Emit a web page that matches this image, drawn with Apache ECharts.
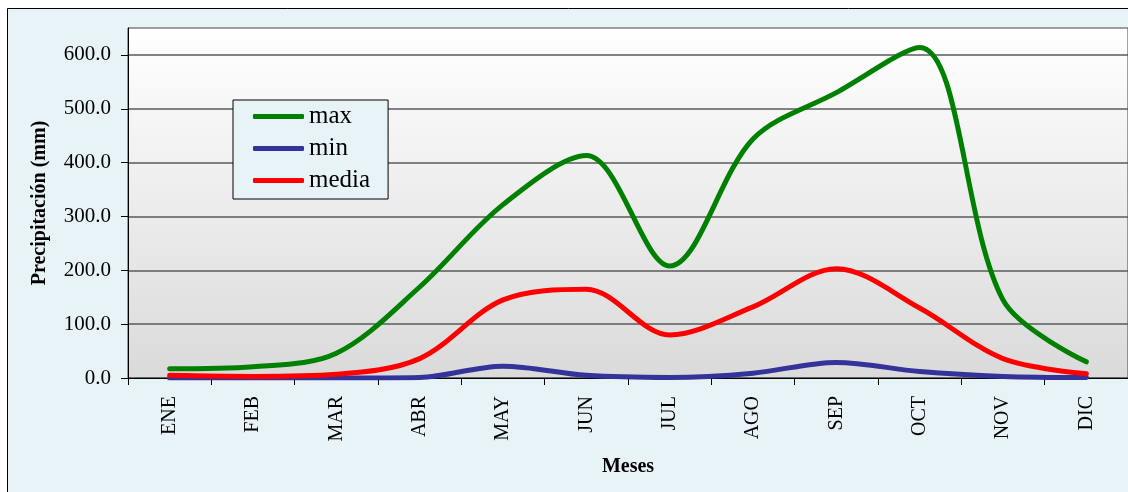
<!DOCTYPE html>
<html>
<head>
<meta charset="utf-8">
<script src="https://cdn.jsdelivr.net/npm/echarts@6/dist/echarts.min.js"></script>
<style>
  html, body { margin: 0; padding: 0; background: #ffffff; }
  #chart { width: 1128px; height: 492px; }
</style>
</head>
<body>
<div id="chart"></div>
<script>
// datos (mm)
const meses = ['ENE', 'FEB', 'MAR', 'ABR', 'MAY', 'JUN', 'JUL', 'AGO', 'SEP', 'OCT', 'NOV', 'DIC'];
const maxVals = [17, 21, 46, 169, 322, 413, 208, 444, 530, 614, 145, 30];
const minVals = [0, 0, 0, 1, 22, 5, 1, 9, 29, 12, 3, 1];
const mediaVals = [5, 3, 7, 36, 145, 165, 80, 132, 203, 130, 36, 8];
const yTicks = [0, 100, 200, 300, 400, 500, 600];

const serif = '"Liberation Serif", "Times New Roman", serif';

const chart = echarts.init(document.getElementById('chart'));

function linea(name, data, color) {
  return {
    name: name,
    type: 'line',
    data: data,
    smooth: 0.33,
    symbol: 'none',
    lineStyle: { width: 5, color: color, cap: 'round' },
    itemStyle: { color: color },
    z: 3,
  };
}

const option = {
  animation: false,
  backgroundColor: '#ffffff',
  textStyle: { fontFamily: serif, color: '#000000' },
  graphic: [
    {
      type: 'rect',
      z: -10,
      silent: true,
      shape: { x: 7.5, y: 8.5, width: 1200, height: 600 },
      style: { fill: '#E8F3F8', stroke: '#000000', lineWidth: 1 },
    },
  ],
  grid: {
    show: true,
    left: 128,
    top: 28,
    right: -8,
    bottom: 114,
    borderColor: '#444444',
    borderWidth: 1,
    backgroundColor: new echarts.graphic.LinearGradient(0, 0, 0, 1, [
      { offset: 0, color: '#FFFFFF' },
      { offset: 1, color: '#DADADA' },
    ]),
  },
  legend: {
    orient: 'vertical',
    left: 233,
    top: 100,
    padding: [4, 18, 6, 20],
    backgroundColor: '#E8F3F8',
    borderColor: '#000000',
    borderWidth: 1,
    borderRadius: 0,
    icon: 'roundRect',
    itemWidth: 51,
    itemHeight: 5,
    itemGap: 7,
    textStyle: { fontFamily: serif, fontSize: 25, lineHeight: 25, color: '#000000' },
    data: ['max', 'min', 'media'],
  },
  xAxis: {
    type: 'category',
    data: meses,
    boundaryGap: true,
    name: 'Meses',
    nameLocation: 'middle',
    nameGap: 79,
    nameTextStyle: { fontFamily: serif, fontSize: 20, fontWeight: 'bold', color: '#000000' },
    axisLine: { lineStyle: { color: '#000000', width: 1 } },
    axisTick: { show: true, alignWithLabel: false, length: 7, lineStyle: { color: '#000000' } },
    axisLabel: {
      rotate: 90,
      margin: 18,
      interval: 0,
      fontFamily: serif,
      fontSize: 20,
      color: '#000000',
    },
    splitLine: { show: false },
  },
  yAxis: {
    type: 'value',
    min: 0,
    max: 650,
    interval: 100,
    name: 'Precipitación (mm)',
    nameLocation: 'middle',
    nameGap: 78,
    nameTextStyle: { fontFamily: serif, fontSize: 20, fontWeight: 'bold', color: '#000000' },
    axisLine: { show: true, lineStyle: { color: '#000000', width: 1 } },
    axisTick: { show: true, length: 7, lineStyle: { color: '#000000' }, customValues: yTicks },
    axisLabel: {
      margin: 17,
      fontFamily: serif,
      fontSize: 21,
      color: '#000000',
      customValues: yTicks,
      formatter: (v) => v.toFixed(1),
    },
    splitLine: { show: true, lineStyle: { color: '#5A5A5A', width: 1.5 } },
  },
  series: [
    linea('max', maxVals, '#008000'),
    linea('min', minVals, '#333399'),
    linea('media', mediaVals, '#FF0000'),
  ],
};

chart.setOption(option);
</script>
</body>
</html>
